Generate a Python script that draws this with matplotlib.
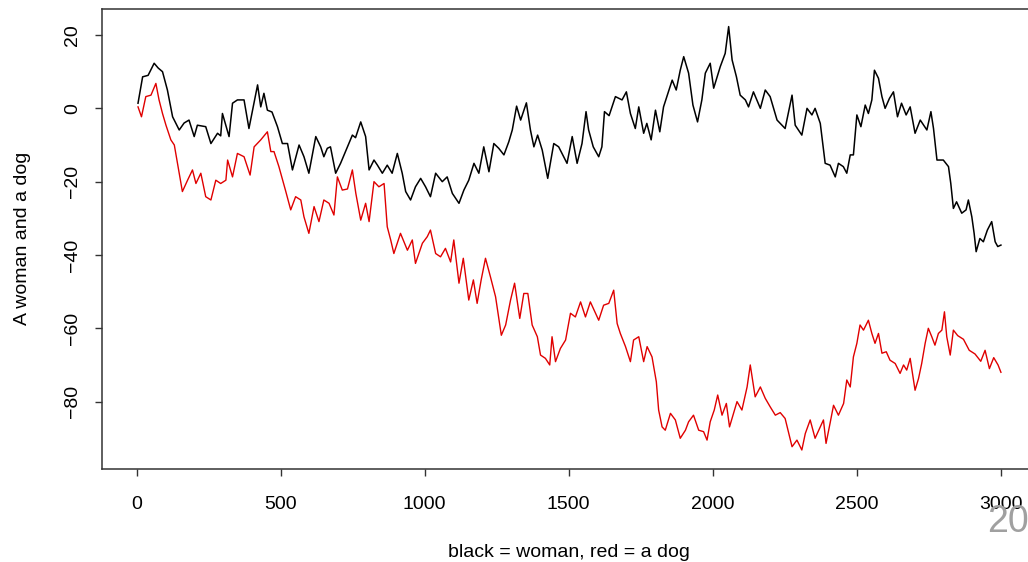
#!/usr/bin/env python3
"""
Woman and dog random walks, redrawn from the slide
"""

import matplotlib
matplotlib.use("Agg")
import matplotlib.pyplot as plt

# values (step, position)
woman_t = [5, 21, 40, 61, 75, 90, 107, 125, 148, 165, 182, 200, 211, 240, 258, 281, 292, 298,
           321, 333, 350, 373, 390, 420, 431, 442, 454, 470, 489, 506, 524, 541, 564, 581, 598,
           622, 639, 650, 662, 673, 691, 708, 732, 749, 760, 778, 795, 807, 824, 836, 853, 870,
           887, 905, 922, 934, 951, 968, 986, 1003, 1020, 1038, 1061, 1078, 1096, 1119, 1136,
           1153, 1171, 1188, 1205, 1223, 1240, 1257, 1275, 1292, 1304, 1319, 1333, 1353, 1367,
           1379, 1392, 1408, 1427, 1448, 1465, 1494, 1512, 1529, 1546, 1560, 1569, 1585, 1604,
           1615, 1624, 1640, 1662, 1685, 1700, 1714, 1731, 1743, 1760, 1771, 1786, 1801, 1816,
           1829, 1859, 1873, 1887, 1899, 1916, 1931, 1947, 1962, 1974, 1991, 2003, 2026, 2043,
           2055, 2067, 2082, 2095, 2113, 2124, 2141, 2165, 2182, 2199, 2223, 2251, 2275, 2286,
           2309, 2327, 2344, 2355, 2373, 2390, 2407, 2425, 2436, 2453, 2465, 2477, 2488, 2500,
           2514, 2529, 2540, 2552, 2561, 2575, 2587, 2598, 2613, 2627, 2641, 2655, 2671, 2685,
           2702, 2720, 2743, 2757, 2766, 2778, 2800, 2818, 2826, 2835, 2846, 2864, 2879, 2887,
           2899, 2907, 2914, 2927, 2939, 2953, 2968, 2980, 2989, 3000]
woman_y = [1.4, 8.6, 9, 12.3, 11, 10, 5, -2.3, -5.9, -4, -3.2, -7.7, -4.6, -5, -9.6, -6.8, -7.5, -1.4,
           -7.7, 1.4, 2.3, 2.3, -5.5, 6.4, 0.4, 4.1, -0.5, -1, -5, -9.6, -9.6, -16.8, -10, -13.2, -17.7,
           -7.7, -10.5, -13.2, -10.9, -10.5, -17.7, -15, -10.5, -7.3, -8, -3.7, -7.7, -16.8, -14.1, -15.5, -17.7, -15.5,
           -17.7, -12.3, -17.7, -22.7, -25, -21.4, -19.1, -21.4, -24.1, -17.7, -20, -18.7, -23.2, -25.9, -22.3,
           -19.6, -15, -17.7, -10.5, -17.3, -9.6, -10.9, -12.7, -9.1, -5.9, 0.6, -3.2, 1.5, -5.9,
           -10.5, -7.3, -11.4, -19.1, -9.6, -10.5, -15, -7.7, -15, -9.6, -0.9, -5.9, -10.5, -13.2,
           -10.5, -0.9, -2, 3.2, 2.3, 4.5, -1.4, -5.5, 0.4, -6.8, -4.1, -8.6, -0.5, -6.4,
           0.4, 7.7, 5, 10.4, 14.1, 9.6, 0.9, -3.7, 2.3, 9.6, 12.3, 5.5, 11.4, 15,
           22.3, 13.2, 8.6, 3.6, 2.3, 0.4, 4.5, 0, 5, 3.2, -3.2, -5.5, 3.6, -4.6,
           -7.3, 0, -1.8, 0, -4.1, -15, -15.5, -18.7, -15, -15.9, -17.7, -12.7, -12.7, -1.8,
           -5, 0.9, -1.4, 2.3, 10.4, 8.2, 3.2, 0, 2.7, 4.5, -2.3, 1.4, -1.8, 0.4,
           -6.8, -3.2, -5.9, -0.9, -5.5, -14.1, -14.1, -15.9, -20.5, -27.3, -25.5, -28.6, -27.7, -25,
           -29.6, -34.1, -39.1, -35.5, -36.4, -33.2, -30.9, -36.4, -37.7, -37.3]

dog_t = [5, 17, 32, 50, 67, 78, 90, 102, 119, 131, 142, 159, 177, 194, 206, 223, 240, 258, 275,
         292, 310, 316, 333, 350, 373, 394, 408, 431, 454, 466, 477, 494, 518, 535, 552, 570,
         581, 598, 616, 633, 650, 668, 685, 697, 714, 732, 749, 761, 778, 795, 807, 824, 841,
         859, 870, 882, 893, 916, 940, 957, 968, 992, 1009, 1020, 1038, 1055, 1072, 1090, 1101,
         1119, 1134, 1153, 1169, 1182, 1196, 1211, 1228, 1246, 1266, 1281, 1298, 1312, 1330,
         1344, 1358, 1373, 1391, 1402, 1419, 1434, 1442, 1454, 1471, 1489, 1506, 1523, 1541,
         1558, 1575, 1593, 1604, 1621, 1639, 1656, 1668, 1679, 1697, 1714, 1725, 1743, 1760,
         1772, 1789, 1804, 1812, 1824, 1835, 1853, 1870, 1887, 1905, 1916, 1933, 1951, 1968,
         1980, 1991, 2005, 2017, 2032, 2047, 2058, 2072, 2084, 2101, 2119, 2130, 2147, 2165,
         2182, 2199, 2217, 2234, 2251, 2275, 2292, 2309, 2321, 2338, 2355, 2373, 2384, 2393,
         2407, 2419, 2436, 2454, 2465, 2477, 2488, 2500, 2511, 2523, 2540, 2552, 2563, 2575,
         2587, 2602, 2615, 2633, 2650, 2662, 2673, 2685, 2702, 2714, 2725, 2737, 2748, 2760,
         2771, 2783, 2795, 2804, 2812, 2824, 2835, 2850, 2870, 2890, 2910, 2930, 2945, 2960,
         2975, 2990, 3000]
dog_y = [0.4, -2.3, 3.2, 3.6, 6.8, 2.3, -1.4, -4.6, -8.6, -10, -15, -22.7, -19.6, -16.8, -20.5, -17.7, -24.1, -25, -19.6,
         -20.5, -19.6, -14.1, -18.7, -12.3, -13.2, -18.2, -10.5, -8.6, -6.4, -11.8, -11.8, -15.9, -22.7, -27.7, -24.1, -25,
         -29.6, -34.1, -26.8, -30.9, -25, -25.9, -29.1, -18.7, -22.3, -22, -16.8, -23.2, -30.5, -25.9, -30.9, -20, -21.4,
         -20.5, -32.3, -35.9, -39.6, -34.1, -38.7, -35.9, -42.3, -36.8, -35, -33.2, -39.6, -40.5, -38.2, -41.9, -35.9,
         -47.7, -40.9, -52.3, -46.8, -53.2, -46.8, -40.9, -45.9, -51.4, -61.9, -59.1, -52.3, -47.7, -57.3,
         -50.5, -50.5, -59.1, -62.3, -67.3, -68.2, -70, -62.3, -69.1, -65.5, -63.2, -55.9, -56.9, -52.8,
         -56.9, -52.8, -55.9, -57.8, -53.7, -53.2, -49.6, -58.7, -61.4, -65, -69.1, -63.2, -62.3, -69.1,
         -65, -67.8, -74.6, -82.3, -86.9, -87.8, -83.2, -85, -90, -87.8, -85.5, -83.7, -87.8, -88.2,
         -90.5, -85.5, -82.3, -78.2, -83.7, -80.5, -86.9, -83.2, -80, -82.3, -76, -70, -78.7, -76,
         -79.1, -81.4, -83.7, -83, -84.6, -92.3, -90.5, -93.2, -88.7, -85, -90, -86.9, -85, -91.4,
         -85.9, -81, -83.7, -80.5, -74.1, -76, -67.8, -64.1, -59.1, -60.5, -57.8, -61.4, -64.1, -61.4,
         -66.8, -66.4, -68.7, -69.6, -72.3, -70, -71.4, -68.2, -76.9, -73.7, -69.6, -64.1, -60, -62.3,
         -64.6, -61.4, -60.5, -55.5, -62.3, -67.3, -60.5, -62, -63, -66, -67, -69, -66, -71,
         -68, -70, -72]

x_ticks = [0, 500, 1000, 1500, 2000, 2500, 3000]
y_ticks = [-80, -60, -40, -20, 0, 20]


def main():
    plt.rcParams['font.family'] = ['Liberation Sans', 'DejaVu Sans']
    fig = plt.figure(figsize=(10.28, 5.62), dpi=100)
    W, H = 1028.0, 562.0
    # plot box runs past the right edge of the slide crop
    ax = fig.add_axes([102 / W, 1 - 468.7 / H, (1035.5 - 102) / W, (468.7 - 9) / H])

    ax.plot(woman_t, woman_y, color='black', lw=1.1)
    ax.plot(dog_t, dog_y, color='#e00000', lw=1.0)

    ax.set_xlim(-120, 3120)
    ax.set_ylim(-98.3, 27.1)
    ax.set_xticks(x_ticks)
    ax.set_yticks(y_ticks)
    ax.tick_params(direction='out', length=5, width=1.0, color='#333333',
                   labelsize=14, pad=15)
    ax.tick_params(axis='y', labelrotation=90, pad=10)
    for lab in ax.get_yticklabels():
        lab.set_va('center')
    for s in ax.spines.values():
        s.set_color('#333333')
        s.set_linewidth(1.1)

    ax.set_xlabel('black = woman, red = a dog', fontsize=14, labelpad=22)
    ax.set_ylabel('A woman and a dog', fontsize=14, labelpad=24)

    # slide page number
    fig.text(987 / W, 1 - 522 / H, '20', fontsize=27, color='#a0a0a0', va='center', ha='left')

    fig.savefig('out.png', dpi=100)


if __name__ == "__main__":
    main()
